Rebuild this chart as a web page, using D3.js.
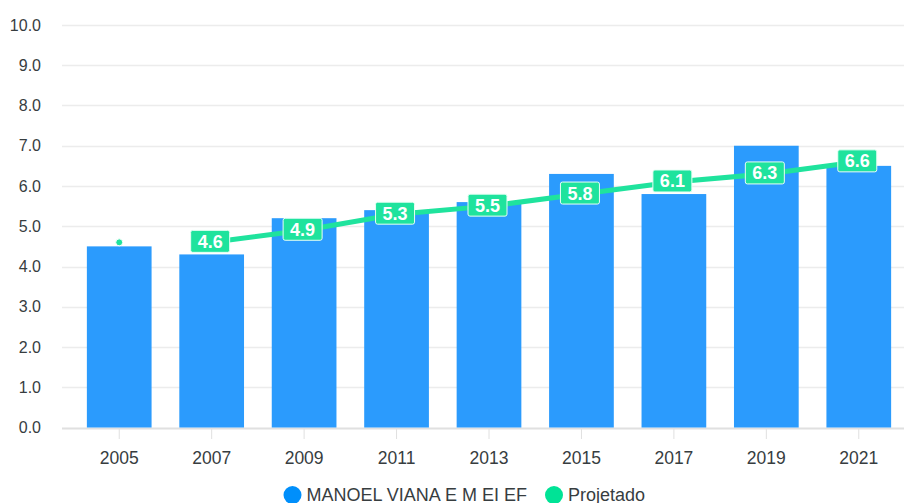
<!DOCTYPE html>
<html>
<head>
<meta charset="utf-8">
<script src="https://cdn.jsdelivr.net/npm/d3@7"></script>
<style>
  body { margin: 0; background: #fff; font-family: "Liberation Sans", Arial, sans-serif; }
  .tick text { fill: #373d3f; }
</style>
</head>
<body>
<div id="chart"></div>
<script>
// data
const years = ["2005", "2007", "2009", "2011", "2013", "2015", "2017", "2019", "2021"];
const observed = [4.5, 4.3, 5.2, 5.4, 5.6, 6.3, 5.8, 7.0, 6.5];
const projYears = ["2007", "2009", "2011", "2013", "2015", "2017", "2019", "2021"];
const projected = [4.6, 4.9, 5.3, 5.5, 5.8, 6.1, 6.3, 6.6];
const firstPoint = { year: "2005", value: 4.6 }; // lone dot, not labelled
const yTicks = [0, 1, 2, 3, 4, 5, 6, 7, 8, 9, 10];
const seriesNames = ["MANOEL VIANA E M EI EF", "Projetado"];

const width = 904, height = 503,
    margin = ({ top: 25, right: 0, bottom: 76, left: 62 });

const blue = "#2b9bfd", green = "#1fe39d";

const svg = d3.select("#chart")
    .append("svg")
    .attr("width", width)
    .attr("height", height);

let x = d3.scaleBand()
    .domain(years)
    .range([73, 905])
    .paddingInner(0.3)
    .paddingOuter(0.15);

let y = d3.scaleLinear()
    .domain([0, 10])
    .range([height - margin.bottom + 0.5, margin.top]);

// gridlines
svg.append("g")
    .selectAll("line")
    .data(yTicks)
    .join("line")
    .attr("x1", margin.left)
    .attr("x2", width)
    .attr("y1", d => Math.round(y(d)) + 0.5)
    .attr("y2", d => Math.round(y(d)) + 0.5)
    .attr("stroke", d => d === 0 ? "#e0e0e0" : "#ececec")
    .attr("stroke-width", d => d === 0 ? 2 : 1.5);

// y axis labels
svg.append("g")
    .attr("transform", `translate(41,0)`)
    .call(d3.axisLeft(y).tickValues(yTicks).tickFormat(d3.format(".1f")).tickSize(0).tickPadding(0))
    .call(g => g.select(".domain").remove())
    .selectAll("text")
    .attr("font-size", 16)
    .attr("font-family", "Liberation Sans, Arial, sans-serif");

// bars
svg.append("g")
    .selectAll("rect")
    .data(observed)
    .join("rect")
    .attr("x", (d, i) => x(years[i]))
    .attr("width", x.bandwidth())
    .attr("y", d => y(d))
    .attr("height", d => y(0) - y(d))
    .attr("fill", blue);

// x axis
svg.append("g")
    .attr("transform", `translate(0,${Math.round(y(0)) + 1})`)
    .call(d3.axisBottom(x).tickSize(10).tickPadding(13))
    .call(g => g.select(".domain").remove())
    .call(g => g.selectAll("line").attr("stroke", "#e0e0e0"))
    .selectAll("text")
    .attr("font-size", 17.5)
    .attr("font-family", "Liberation Sans, Arial, sans-serif");

// projected line
let cx = yr => x(yr) + x.bandwidth() / 2;
let line = d3.line()
    .x((d, i) => cx(projYears[i]))
    .y(d => y(d));

svg.append("path")
    .datum(projected)
    .attr("d", line)
    .attr("fill", "none")
    .attr("stroke", green)
    .attr("stroke-width", 5);

svg.append("circle")
    .attr("cx", cx(firstPoint.year))
    .attr("cy", y(firstPoint.value))
    .attr("r", 3.5)
    .attr("fill", green)
    .attr("stroke", "#fff")
    .attr("stroke-width", 1);

// labels
let labels = svg.append("g")
    .selectAll("g")
    .data(projected)
    .join("g")
    .attr("transform", (d, i) => `translate(${cx(projYears[i]) - 1.5},${y(d) - 1})`);

labels.append("rect")
    .attr("x", -19.5)
    .attr("y", -11)
    .attr("width", 39)
    .attr("height", 22)
    .attr("rx", 2)
    .attr("fill", green)
    .attr("stroke", "#e8fff5")
    .attr("stroke-width", 1);

labels.append("text")
    .attr("text-anchor", "middle")
    .attr("dy", "0.36em")
    .attr("fill", "#fff")
    .attr("font-size", 18)
    .attr("font-weight", "bold")
    .attr("font-family", "Liberation Sans, Arial, sans-serif")
    .text(d => d.toFixed(1));

// legend
let legend = svg.append("g").attr("transform", `translate(0,495)`);
let legendX = [292.5, 554];
legend.selectAll("circle")
    .data(seriesNames)
    .join("circle")
    .attr("cx", (d, i) => legendX[i])
    .attr("cy", 0)
    .attr("r", 9)
    .attr("fill", (d, i) => i === 0 ? "#008ffb" : "#00e396");

legend.selectAll("text")
    .data(seriesNames)
    .join("text")
    .attr("x", (d, i) => legendX[i] + 14)
    .attr("y", 0)
    .attr("dy", "0.36em")
    .attr("font-size", 18)
    .attr("fill", "#373d3f")
    .attr("font-family", "Liberation Sans, Arial, sans-serif")
    .text(d => d);
</script>
</body>
</html>
